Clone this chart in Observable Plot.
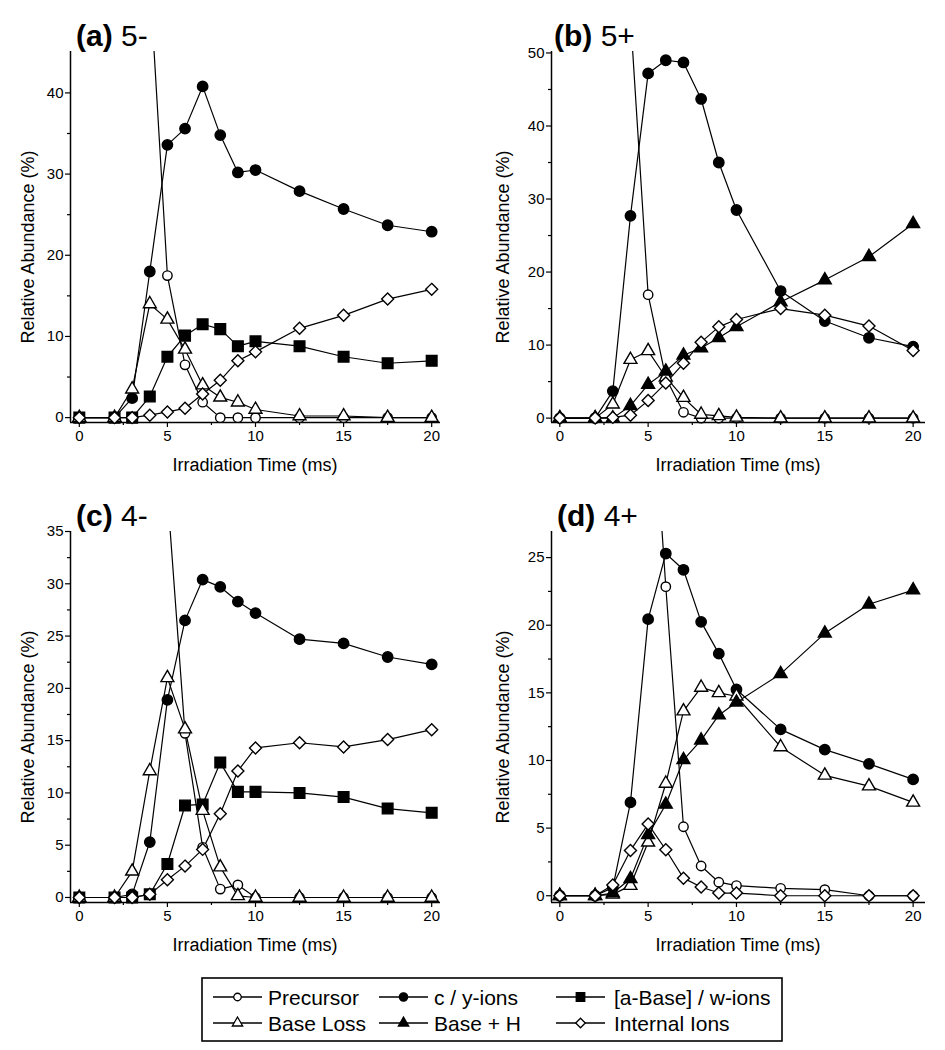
<!DOCTYPE html>
<html><head><meta charset="utf-8">
<script src="https://cdn.jsdelivr.net/npm/d3@7"></script>
<script src="https://cdn.jsdelivr.net/npm/@observablehq/plot@0.6"></script>
<style>
body{margin:0;background:#fff;}
#wrap{position:relative;width:945px;height:1050px;font-family:"Liberation Sans",Arial,sans-serif;}
#wrap svg{position:absolute;}
</style></head><body><div id="wrap"></div>
<script>
// ---- data ----
const xs = [0, 2, 3, 4, 5, 6, 7, 8, 9, 10, 12.5, 15, 17.5, 20];
const xMajor = [0, 5, 10, 15, 20];
const xMinor = [2.5, 7.5, 12.5, 17.5];
const seriesNames = ["Precursor", "c / y-ions", "[a-Base] / w-ions", "Base Loss", "Base + H", "Internal Ions"];

// (a) 5-
const a_precursor = [100, 100, 95, 54, 17.5, 6.5, 1.9, 0, 0, 0, 0, 0, 0, 0];
const a_cy        = [0, 0, 2.4, 18.0, 33.6, 35.6, 40.8, 34.8, 30.2, 30.5, 27.9, 25.7, 23.7, 22.9];
const a_aBase     = [0, 0, 0, 2.6, 7.5, 10.1, 11.5, 10.9, 8.8, 9.4, 8.8, 7.5, 6.7, 7.0];
const a_baseLoss  = [0, 0, 3.5, 14.0, 12.1, 8.4, 4.0, 2.5, 1.9, 1.0, 0.2, 0.2, 0, 0];
const a_internal  = [0, 0, 0, 0.3, 0.7, 1.15, 2.9, 4.6, 7.0, 8.1, 11.0, 12.6, 14.6, 15.8];
// (b) 5+
const b_precursor = [100, 100, 95, 55, 16.9, 5.5, 0.8, 0, 0, 0, 0, 0, 0, 0];
const b_cy        = [0, 0, 3.7, 27.7, 47.2, 49.0, 48.7, 43.7, 35.0, 28.5, 17.4, 13.3, 11.0, 9.8];
const b_baseLoss  = [0, 0, 1.9, 8.0, 9.2, 5.6, 2.8, 0.5, 0.3, 0.1, 0, 0, 0, 0];
const b_baseH     = [0, 0, 0, 1.7, 4.6, 6.4, 8.6, 9.6, 11.0, 12.5, 15.9, 18.9, 22.1, 26.6];
const b_internal  = [0, 0, 0.1, 0.4, 2.4, 4.8, 7.5, 10.4, 12.5, 13.5, 15.0, 14.1, 12.6, 9.25];
// (c) 4-
const c_precursor = [100, 100, 98, 70, 38.7, 15.7, 4.8, 0.8, 1.2, 0, 0, 0, 0, 0];
const c_cy        = [0, 0, 0.3, 5.3, 18.9, 26.5, 30.4, 29.7, 28.3, 27.2, 24.7, 24.3, 23.0, 22.3];
const c_aBase     = [0, 0, 0, 0.3, 3.2, 8.8, 8.9, 12.9, 10.1, 10.1, 10.0, 9.6, 8.5, 8.1];
const c_baseLoss  = [0, 0, 2.5, 12.1, 21.0, 16.1, 8.3, 2.9, 0.15, 0, 0, 0, 0, 0];
const c_internal  = [0, 0, 0, 0.3, 1.7, 3.0, 4.6, 8.0, 12.1, 14.3, 14.8, 14.4, 15.1, 16.05];
// (d) 4+
const d_precursor = [100, 100, 98, 80, 42, 22.85, 5.1, 2.2, 1.0, 0.75, 0.55, 0.45, 0, 0];
const d_cy        = [0, 0, 0.6, 6.9, 20.45, 25.3, 24.1, 20.25, 17.9, 15.25, 12.3, 10.8, 9.75, 8.6];
const d_baseLoss  = [0, 0, 0.1, 0.75, 3.95, 8.3, 13.65, 15.4, 15.0, 14.75, 11.0, 8.9, 8.1, 6.9];
const d_baseH     = [0, 0, 0.2, 1.25, 4.5, 6.75, 10.05, 11.5, 13.35, 14.3, 16.4, 19.4, 21.55, 22.6];
const d_internal  = [0, 0, 0.8, 3.35, 5.3, 3.4, 1.3, 0.65, 0.2, 0.2, 0, 0, 0, 0];

// ---- styles ----
const FONT = "Liberation Sans, Arial, Helvetica, sans-serif";
const styles = {
  "Precursor":         {symbol: "circle",   fill: "white", r: 4.7},
  "c / y-ions":        {symbol: "circle",   fill: "black", r: 5.2},
  "[a-Base] / w-ions": {symbol: "square",   fill: "black", r: 6},
  "Base Loss":         {symbol: "triangle", fill: "white", r: 4.8},
  "Base + H":          {symbol: "triangle", fill: "black", r: 4.8},
  "Internal Ions":     {symbol: "diamond2", fill: "white", r: 5.4}
};

const wrap = document.getElementById("wrap");

function panel(cfg) {
  const rows = cfg.series.flatMap(([name, vals]) => xs.map((x, i) => ({x, y: vals[i], name})));
  const marks = [
    Plot.axisY(cfg.yMinor, {tickSize: 3, text: null, label: null, strokeWidth: 1.2}),
    Plot.axisY(cfg.yMajor, {tickSize: 5, tickPadding: 2, fontSize: 15, label: null, strokeWidth: 1.2}),
    Plot.axisX(xMinor, {tickSize: 3, text: null, label: null, strokeWidth: 1.2}),
    Plot.axisX(xMajor, {tickSize: 5, tickPadding: 3, fontSize: 15, label: null, strokeWidth: 1.2}),
    Plot.ruleX([cfg.xDomain[0]], {stroke: "black", strokeWidth: 1.5}),
    Plot.ruleY([cfg.yDomain[0]], {stroke: "black", strokeWidth: 1.5})
  ];
  for (const [name] of cfg.series) {
    marks.push(Plot.line(rows.filter(d => d.name === name), {x: "x", y: "y", stroke: "black", strokeWidth: 1.2, clip: true}));
  }
  for (const [name] of cfg.series) {
    const st = styles[name];
    marks.push(Plot.dot(rows.filter(d => d.name === name && d.y <= cfg.yDomain[1]),
      {x: "x", y: "y", symbol: st.symbol, r: st.r, fill: st.fill, stroke: "black", strokeWidth: 1.4}));
  }
  const chart = Plot.plot({
    width: cfg.width, height: 480,
    marginLeft: cfg.marginLeft, marginRight: cfg.marginRight, marginTop: 51, marginBottom: 58,
    x: {domain: cfg.xDomain},
    y: {domain: cfg.yDomain},
    style: {fontFamily: FONT, fontSize: "15px", color: "black", background: "transparent", overflow: "visible"},
    marks
  });
  chart.style.left = cfg.left + "px";
  chart.style.top = cfg.top + "px";
  const svg = d3.select(chart);
  const t = svg.append("text").attr("x", cfg.titleX).attr("y", 46).attr("text-anchor", "start")
    .attr("font-family", FONT).attr("font-size", 30).attr("fill", "black");
  t.append("tspan").attr("font-weight", "bold").text(cfg.letter);
  t.append("tspan").text(" " + cfg.charge);
  svg.append("text").attr("transform", `translate(${cfg.yLabelX},247) rotate(-90)`)
    .attr("text-anchor", "middle").attr("font-family", FONT).attr("font-size", 18).attr("fill", "black")
    .text("Relative Abundance (%)");
  const cx = (cfg.marginLeft + cfg.width - cfg.marginRight) / 2;
  svg.append("text").attr("x", cx).attr("y", 471)
    .attr("text-anchor", "middle").attr("font-family", FONT).attr("font-size", 18).attr("fill", "black")
    .text("Irradiation Time (ms)");
  wrap.appendChild(chart);
}

panel({left: 0, top: 0, width: 470, marginLeft: 70, marginRight: 30,
  xDomain: [-0.5, 20.5], yDomain: [-0.6, 45.1],
  yMajor: [0, 10, 20, 30, 40], yMinor: [5, 15, 25, 35],
  letter: "(a)", charge: "5-", titleX: 76, yLabelX: 34,
  series: [["Precursor", a_precursor], ["c / y-ions", a_cy], ["[a-Base] / w-ions", a_aBase], ["Base Loss", a_baseLoss], ["Internal Ions", a_internal]]});

panel({left: 470, top: 0, width: 475, marginLeft: 81, marginRight: 20,
  xDomain: [-0.47, 20.7], yDomain: [-0.6, 50.2],
  yMajor: [0, 10, 20, 30, 40, 50], yMinor: [5, 15, 25, 35, 45],
  letter: "(b)", charge: "5+", titleX: 84, yLabelX: 39,
  series: [["Precursor", b_precursor], ["c / y-ions", b_cy], ["Base Loss", b_baseLoss], ["Base + H", b_baseH], ["Internal Ions", b_internal]]});

panel({left: 0, top: 480, width: 470, marginLeft: 70, marginRight: 30,
  xDomain: [-0.5, 20.5], yDomain: [-0.48, 35],
  yMajor: [0, 5, 10, 15, 20, 25, 30, 35], yMinor: [2.5, 7.5, 12.5, 17.5, 22.5, 27.5, 32.5],
  letter: "(c)", charge: "4-", titleX: 76, yLabelX: 34,
  series: [["Precursor", c_precursor], ["c / y-ions", c_cy], ["[a-Base] / w-ions", c_aBase], ["Base Loss", c_baseLoss], ["Internal Ions", c_internal]]});

panel({left: 470, top: 480, width: 475, marginLeft: 81, marginRight: 20,
  xDomain: [-0.47, 20.7], yDomain: [-0.5, 26.93],
  yMajor: [0, 5, 10, 15, 20, 25], yMinor: [2.5, 7.5, 12.5, 17.5, 22.5],
  letter: "(d)", charge: "4+", titleX: 87, yLabelX: 39,
  series: [["Precursor", d_precursor], ["c / y-ions", d_cy], ["Base Loss", d_baseLoss], ["Base + H", d_baseH], ["Internal Ions", d_internal]]});

// ---- legend ----
const leg = d3.create("svg").attr("width", 945).attr("height", 90)
  .style("left", "0px").style("top", "960px");
leg.append("rect").attr("x", 202).attr("y", 18).attr("width", 580).attr("height", 63)
  .attr("fill", "white").attr("stroke", "black").attr("stroke-width", 1.6);
const legendOrder = [
  ["Precursor", 213, 0], ["c / y-ions", 379, 0], ["[a-Base] / w-ions", 556, 0],
  ["Base Loss", 213, 1], ["Base + H", 379, 1], ["Internal Ions", 556, 1]
];
const symMap = {circle: d3.symbolCircle, square: d3.symbolSquare, triangle: d3.symbolTriangle, diamond2: d3.symbolDiamond2};
for (const [name, x0, row] of legendOrder) {
  const cy = row === 0 ? 37 : 63;
  const st = styles[name];
  const textX = x0 === 556 ? 614 : x0 + 55;
  leg.append("line").attr("x1", x0).attr("x2", x0 + 49).attr("y1", cy).attr("y2", cy)
    .attr("stroke", "black").attr("stroke-width", 1.3);
  const rr = st.r * 0.8;
  leg.append("path").attr("transform", `translate(${x0 + 24.5},${cy})`)
    .attr("d", d3.symbol(symMap[st.symbol], rr * rr * Math.PI)())
    .attr("fill", st.fill).attr("stroke", "black").attr("stroke-width", 1.3);
  leg.append("text").attr("x", textX).attr("y", cy + 7.5)
    .attr("font-family", FONT).attr("font-size", 21).attr("fill", "black").text(name);
}
wrap.appendChild(leg.node());
</script></body></html>
